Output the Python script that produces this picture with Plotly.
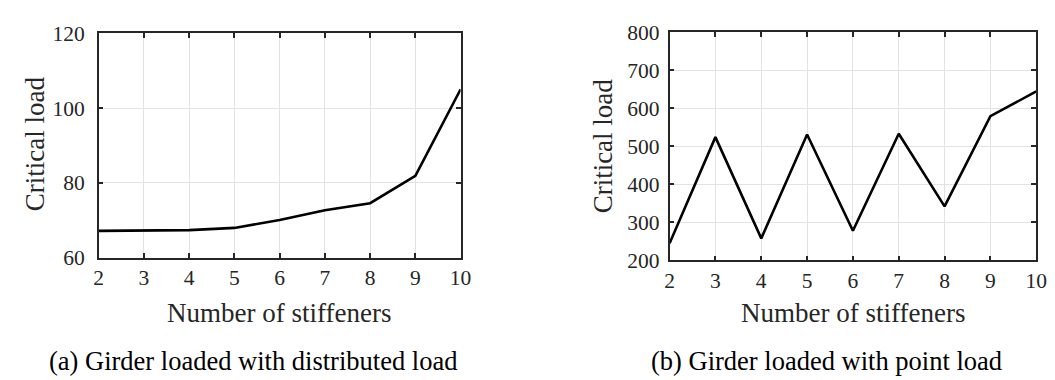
import plotly.graph_objects as go

stiffeners = [2, 3, 4, 5, 6, 7, 8, 9, 10]
load_distributed = [67.2, 67.2, 67.4, 68.0, 70.1, 72.7, 74.6, 81.9, 105.0]
load_point = [245, 524, 258, 531, 278, 533, 342, 579, 644]

x_title = "Number of stiffeners"
y_title = "Critical load"
caption_a = "(a) Girder loaded with distributed load"
caption_b = "(b) Girder loaded with point load"

FONT = "Liberation Serif"
W, H = 1055, 380

fig = go.Figure()
fig.add_trace(go.Scatter(x=stiffeners, y=load_distributed, mode="lines",
                         line=dict(color="black", width=2.6), xaxis="x", yaxis="y",
                         showlegend=False))
fig.add_trace(go.Scatter(x=stiffeners, y=load_point, mode="lines",
                         line=dict(color="black", width=2.6), xaxis="x2", yaxis="y2",
                         showlegend=False))

def px(xp):
    return xp / W

def py(yp):
    return 1 - yp / H

tick_font = dict(family=FONT, size=21.5, color="#262626")

def axis_style():
    return dict(
        showline=True, linecolor="#262626", linewidth=1.5, mirror="ticks",
        ticks="inside", ticklen=5, tickwidth=1.5, tickcolor="#262626",
        showgrid=True, gridcolor="#e3e3e3", gridwidth=1,
        zeroline=False,
        tickfont=dict(tick_font),
    )

fig.update_layout(
    width=W, height=H,
    font=dict(family=FONT, size=20, color="#262626"),
    margin=dict(l=0, r=0, t=0, b=0),
    paper_bgcolor="white", plot_bgcolor="white",
)
fig.update_layout(
    xaxis=dict(domain=[px(87), px(454.5)], range=[2, 10], dtick=1,
               anchor="y", ticklabelstandoff=0, **axis_style()),
    yaxis=dict(domain=[py(255), py(15)], range=[60, 120], dtick=20,
               anchor="x", ticklabelstandoff=8, **axis_style()),
    xaxis2=dict(domain=[px(666.7), px(1039)], range=[2, 10], dtick=1,
                anchor="y2", ticklabelstandoff=0, **axis_style()),
    yaxis2=dict(domain=[py(257.7), py(14)], range=[200, 800], dtick=100,
                anchor="x2", ticklabelstandoff=4, **axis_style()),
)

title_font = dict(family=FONT, size=27, color="#262626")
cap_font = dict(family=FONT, size=26.5, color="black")
ann = [
    dict(text=x_title, x=px(270), y=py(314), font=title_font),
    dict(text=x_title, x=px(852.5), y=py(314), font=title_font),
    dict(text=y_title, x=px(22), y=py(133), textangle=-90, font=title_font),
    dict(text=y_title, x=px(600), y=py(135), textangle=-90, font=title_font),
    dict(text=caption_a, x=px(244), y=py(365), font=cap_font),
    dict(text=caption_b, x=px(826), y=py(365), font=cap_font),
]
for a in ann:
    fig.add_annotation(xref="paper", yref="paper", showarrow=False,
                       xanchor="center", yanchor="middle", **a)

fig.write_html("out.html")
